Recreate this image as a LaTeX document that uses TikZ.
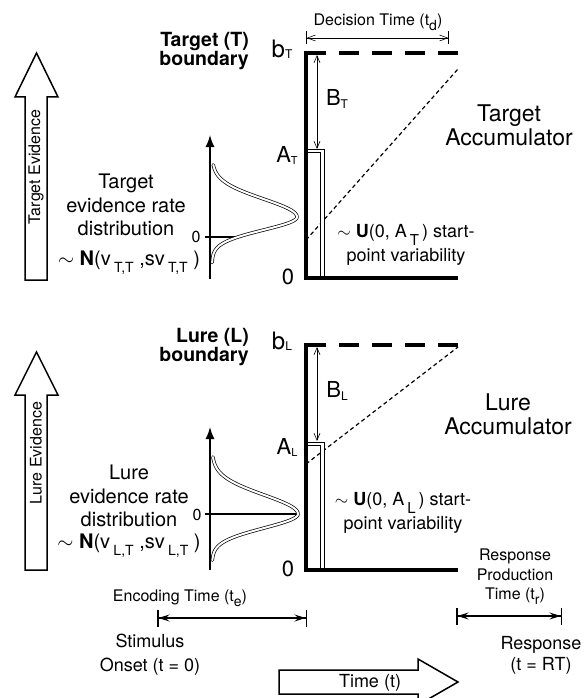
\documentclass[tikz,border=0pt]{standalone}
\usepackage{fontspec}
\setmainfont{TeX Gyre Heros}
\usetikzlibrary{arrows.meta, positioning}

% small subscript set low: lowering (pt), size (pt), text
\newcommand{\lsub}[3]{\raisebox{-#1pt}{\fontsize{#2}{#2}\selectfont #3}}

\begin{document}
\begin{tikzpicture}[
  x=1pt, y=-1pt,
  lbl/.style={inner sep=0pt, align=center, font=\fontsize{18}{24}\selectfont},
  lblsm/.style={inner sep=0pt, align=center, font=\fontsize{16}{19.5}\selectfont},
  lblmid/.style={inner sep=0pt, align=center, font=\fontsize{20}{23.5}\selectfont},
  lblbig/.style={inner sep=0pt, font=\fontsize{22}{22}\selectfont},
  lblhuge/.style={inner sep=0pt, align=center, font=\fontsize{23}{24}\selectfont},
  lblbold/.style={inner sep=0pt, align=right, font=\fontsize{19.5}{19.5}\selectfont\bfseries},
  wall/.style={line width=4pt, line join=miter},
  bound/.style={line width=4pt, dash pattern=on 20pt off 13pt},
  slope/.style={line width=1.2pt, dash pattern=on 4pt off 3pt},
  startpt/.style={draw=black, double=white, double distance=2.4pt, line width=0.9pt, line join=miter},
  gap/.style={line width=0.6pt, {Straight Barb[length=7pt,width=6pt]}-{Straight Barb[length=7pt,width=6pt]}},
  span/.style={line width=0.6pt, {Bar[width=13pt]Straight Barb[length=8pt,width=6pt]}-{Straight Barb[length=8pt,width=6pt]Bar[width=13pt]}},
  stage/.style={line width=1.5pt, {Bar[width=17pt]Stealth[length=11pt,width=7pt,inset=4pt]}-{Stealth[length=11pt,width=7pt,inset=4pt]Bar[width=17pt]}},
  yaxis/.style={line width=1.5pt, -{Latex[length=12pt,width=9pt]}},
  bell/.style={double, double distance=2pt, line width=0.7pt, line cap=round},
  hollow/.style={line width=1.5pt, line join=miter}
]
\useasboundingbox (0,0) rectangle (585,698);
\clip (0,0) rectangle (585,698);

% slopes of the two accumulators
\coordinate (slT0) at (306,240);
\coordinate (slT1) at (458,69);
\coordinate (slL0) at (306,464);
\coordinate (slL1) at (458,347);
\draw[slope] (slT0) -- (slT1);
\draw[slope] (slL0) -- (slL1);

% start-point bars
\coordinate (spT) at (306,151);
\coordinate (spcT) at (322.5,151);
\coordinate (spzT) at (322.5,276);
\coordinate (spL) at (306,444);
\coordinate (spcL) at (322.5,444);
\coordinate (spzL) at (322.5,568);
\draw[startpt] (spT) -- (spcT) -- (spzT);
\draw[startpt] (spL) -- (spcL) -- (spzL);

% accumulators: T on top, L below
\foreach \p/\dy in {T/0, L/292} {
  \coordinate (top\p) at (306,53+\dy);
  \coordinate (topend\p) at (458,53+\dy);
  \coordinate (zero\p) at (306,278+\dy);
  \coordinate (zeroend\p) at (458,278+\dy);
  \coordinate (Bhi\p) at (317,55+\dy);
  \coordinate (Blo\p) at (317,149+\dy);
  \draw[bound] (top\p) -- (topend\p);
  \draw[wall] ([yshift=2pt]top\p) -- (zero\p) -- (zeroend\p);
  \draw[gap] (Bhi\p) -- (Blo\p);
  \node[lblbig, font=\fontsize{24}{24}\selectfont] (b\p) at (282,49+\dy) {b\lsub{1}{12}{\p}};
  \node[lblbig] (A\p) at (287,155+\dy) {A\lsub{2}{11}{\p}};
  \node[lblbig] (zl\p) at (288,277+\dy) {0};
  \node[lblbig] (B\p) at (337,99+\dy) {B\lsub{3}{12}{\p}};
}

\coordinate (dtL) at (306,38);
\coordinate (dtR) at (449,38);
\draw[span] (dtL) -- (dtR);
\node[lblsm] (dtime) at (378,22) {Decision Time (t\lsub{5}{14}{d})};

\node[lblbold, anchor=east] (bndT) at (249,51) {Target (T)\\boundary};
\node[lblbold, anchor=east] (bndL) at (249,347) {Lure (L)\\boundary};

\node[lblhuge] (accT) at (509,125) {Target\\Accumulator};
\node[lblhuge] (accL) at (508,414) {Lure\\Accumulator};

\node[lbl] (uT) at (406,245) {$\sim$ \textbf{U}(0, A\,\lsub{8}{15}{T}\,) start-\\point variability};
\node[lbl] (uL) at (403,513) {$\sim$ \textbf{U}(0, A\,\lsub{8}{15}{L}\,) start-\\point variability};

% target rate distribution
\coordinate (axT0) at (210,279);
\coordinate (axT1) at (210,135);
\coordinate (zrT0) at (205,237);
\coordinate (zrT1) at (238,237);
\draw[yaxis] (axT0) -- (axT1);
\draw[line width=1.5pt] (zrT0) -- (zrT1);
\draw[bell] plot[domain=-2.9:0, samples=40, variable=\t] ({212+85*exp(-0.5*(\t)*(\t))}, {217+18*\t})
  -- plot[domain=0:3.5, samples=40, variable=\t] ({212+85*exp(-0.5*(\t)*(\t))}, {217+13*\t});
\node[lblsm] (zaT) at (196,237) {0};
\node[lblmid] (distT) at (126,205) {Target\\evidence rate\\distribution};
\node[lblmid] (nT) at (129,263) {$\sim$ \textbf{N}(v\,\lsub{7}{14}{T,T} ,sv\,\lsub{7}{14}{T,T} )};

% lure rate distribution
\coordinate (axL0) at (210,570);
\coordinate (axL1) at (210,427);
\coordinate (zrL0) at (205,514);
\coordinate (zrL1) at (298,514);
\draw[yaxis] (axL0) -- (axL1);
\draw[line width=1.5pt] (zrL0) -- (zrL1);
\draw[bell] plot[domain=-3:0, samples=40, variable=\t] ({212+86*exp(-0.5*(\t)*(\t))}, {514+19*\t})
  -- plot[domain=0:3.3, samples=40, variable=\t] ({212+86*exp(-0.5*(\t)*(\t))}, {514+14*\t});
\node[lblsm] (zaL) at (197,515) {0};
\node[lblmid] (distL) at (129,496) {Lure\\evidence rate\\distribution};
\node[lblmid] (nL) at (129,546) {$\sim$ \textbf{N}(v\,\lsub{7}{14}{L,T} ,sv\,\lsub{7}{14}{L,T} )};

% evidence arrows
\draw[hollow] (25,280) -- (25,97) -- (15,97) -- (36.5,53) -- (58,97) -- (47,97) -- (47,280) -- cycle;
\node[lblsm, rotate=90] (evT) at (36,167) {Target Evidence};
\draw[hollow] (25,570) -- (25,395) -- (15,395) -- (36.5,352) -- (58,395) -- (47,395) -- (47,570) -- cycle;
\node[lblsm, rotate=90] (evL) at (36,453) {Lure Evidence};

% time line
\coordinate (encL) at (157,618);
\coordinate (encR) at (307,618);
\draw[stage] (encL) -- (encR);
\node[lblsm] (enc) at (180,598) {Encoding Time (t\lsub{5}{14}{e})};
\node[lbl] (onset) at (150,655) {Stimulus\\Onset (t = 0)};

\coordinate (rpL) at (456,616);
\coordinate (rpR) at (562,616);
\draw[stage] (rpL) -- (rpR);
\node[lblsm] (prod) at (515,577) {Response\\Production\\Time (t\lsub{5}{14}{r})};
\node[lbl, font=\fontsize{18}{21}\selectfont] (resp) at (541,655) {Response\\(t = RT)};

\draw[hollow] (279,670) -- (418,670) -- (418,659) -- (458,682) -- (418,705) -- (418,694) -- (279,694) -- cycle;
\node[lbl] (time) at (370,683) {Time (t)};
\end{tikzpicture}
\end{document}
